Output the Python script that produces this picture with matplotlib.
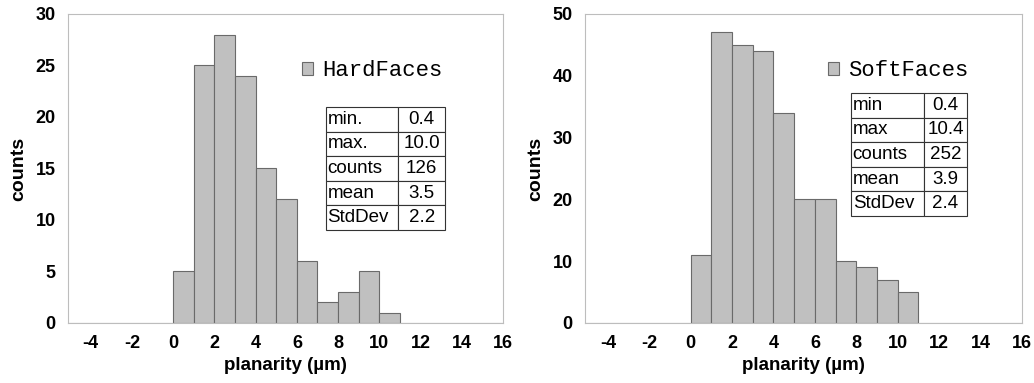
import matplotlib; matplotlib.use("Agg")
import matplotlib.pyplot as plt

# histogram bins (1 um wide) and counts per bin
bin_edges = [0, 1, 2, 3, 4, 5, 6, 7, 8, 9, 10, 11]
hard_counts = [5, 25, 28, 24, 15, 12, 6, 2, 3, 5, 1]
soft_counts = [11, 47, 45, 44, 34, 20, 20, 10, 9, 7, 5]

hard_stats_names = ["min.", "max.", "counts", "mean", "StdDev"]
hard_stats_vals = ["0.4", "10.0", "126", "3.5", "2.2"]
soft_stats_names = ["min", "max", "counts", "mean", "StdDev"]
soft_stats_vals = ["0.4", "10.4", "252", "3.9", "2.4"]

xticks = [-4, -2, 0, 2, 4, 6, 8, 10, 12, 14, 16]

plt.rcParams["font.family"] = ["Liberation Sans", "DejaVu Sans"]
plt.rcParams["axes.unicode_minus"] = False
fig = plt.figure(figsize=(10.34, 3.83), dpi=100)
ax1 = fig.add_axes([0.0658, 0.1567, 0.4207, 0.807])
ax2 = fig.add_axes([0.5658, 0.1567, 0.4226, 0.807])

panels = [
    (ax1, hard_counts, "HardFaces", 30, [0, 5, 10, 15, 20, 25, 30],
     hard_stats_names, hard_stats_vals, [0.593, 0.301, 0.274, 0.398], [0.605, 0.395], 0.538),
    (ax2, soft_counts, "SoftFaces", 50, [0, 10, 20, 30, 40, 50],
     soft_stats_names, soft_stats_vals, [0.609, 0.346, 0.265, 0.398], [0.63, 0.37], 0.556),
]

for ax, counts, name, ymax, yticks, snames, svals, tbox, cw, legx in panels:
    bars = ax.hist(bin_edges[:-1], bins=bin_edges, weights=counts,
                   color="#c0c0c0", edgecolor="#6a6a6a", linewidth=0.8,
                   label=name)[2]
    ax.axhline(0, color="#9a9a9a", lw=0.8, zorder=0)
    ax.set_xlim(-5.1, 16)
    ax.set_ylim(0, ymax)
    ax.set_xticks(xticks)
    ax.set_yticks(yticks)
    ax.tick_params(axis="both", length=0, pad=9, labelsize=13)
    for lab in ax.get_xticklabels() + ax.get_yticklabels():
        lab.set_fontweight("bold")
    for sp in ax.spines.values():
        sp.set_color("#bdbdbd")
        sp.set_linewidth(0.8)
    ax.set_xlabel("planarity (\u00b5m)", fontsize=13.5, fontweight="bold", labelpad=3)
    ax.set_ylabel("counts", fontsize=14, fontweight="bold", labelpad=6)

    ax.legend(handles=[bars[0]], labels=[name], loc="center left",
              bbox_to_anchor=(legx, 0.816), frameon=False,
              handlelength=0.5, handleheight=0.5, handletextpad=0.4,
              borderaxespad=0, borderpad=0,
              prop={"family": "Liberation Mono", "size": 16})

    tbl = ax.table(cellText=[[a, b] for a, b in zip(snames, svals)],
                   cellLoc="center", colWidths=cw, bbox=tbox)
    tbl.auto_set_font_size(False)
    for (r, c), cell in tbl.get_celld().items():
        cell.set_facecolor("white")
        cell.set_edgecolor("#333333")
        cell.set_linewidth(0.8)
        cell.get_text().set_fontsize(13.5)
        if c == 0:
            cell.get_text().set_ha("left")
            cell._loc = "left"
            cell.PAD = 0.02

fig.savefig("out.png", dpi=100)
